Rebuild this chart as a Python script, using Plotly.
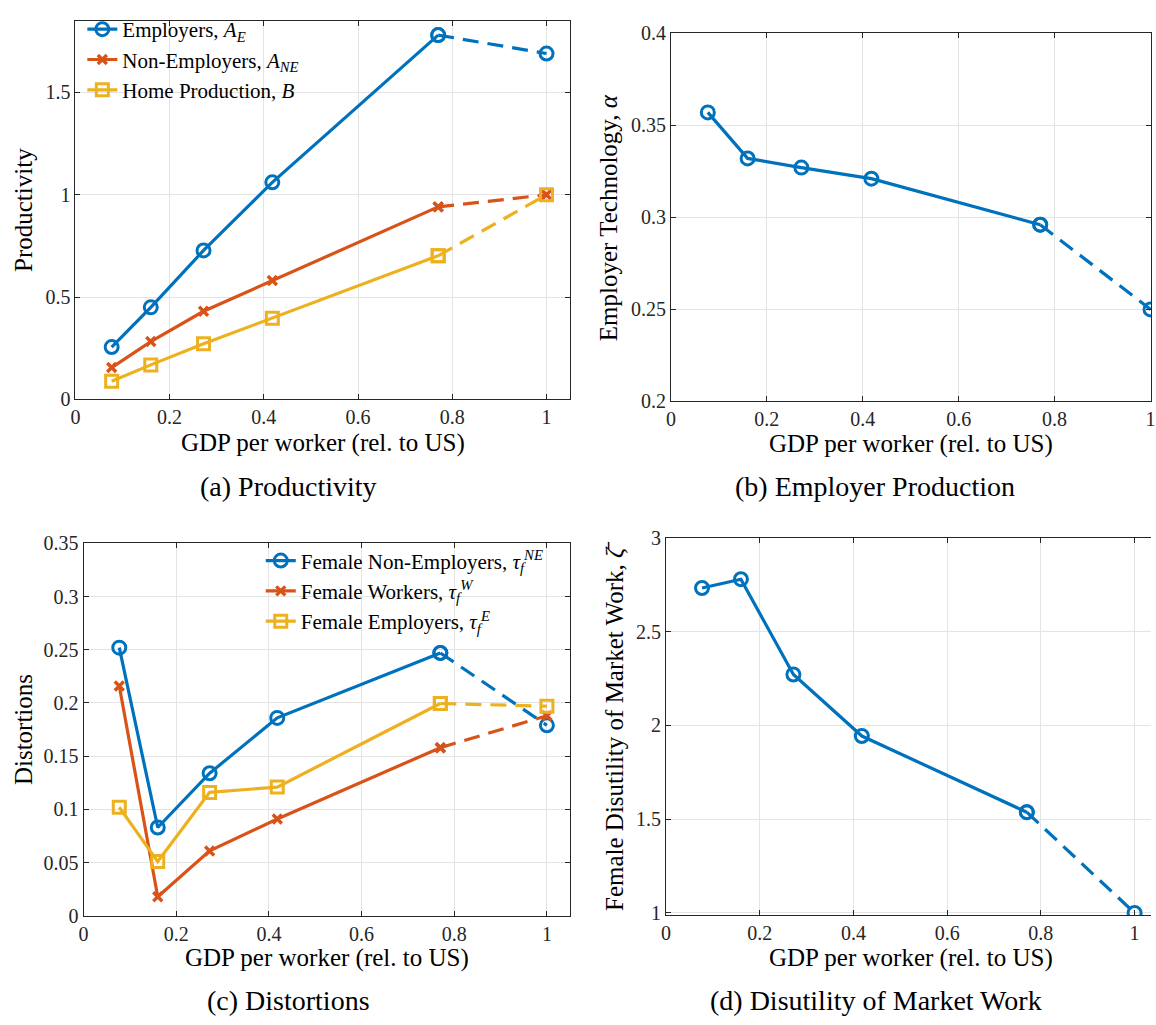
import plotly.graph_objects as go

# ---------------- data ----------------
gdp = [0.077, 0.160, 0.272, 0.418, 0.770, 1.0]

prod_employers = [0.256, 0.450, 0.728, 1.061, 1.780, 1.690]
prod_nonemployers = [0.156, 0.283, 0.431, 0.581, 0.941, 1.000]
prod_home = [0.089, 0.169, 0.272, 0.397, 0.702, 1.000]

alpha = [0.357, 0.332, 0.327, 0.321, 0.296, 0.250]

tau_ne = [0.252, 0.083, 0.134, 0.186, 0.247, 0.179]
tau_w = [0.216, 0.018, 0.061, 0.091, 0.158, 0.188]
tau_e = [0.102, 0.051, 0.116, 0.121, 0.1995, 0.197]

zeta = [2.732, 2.779, 2.271, 1.943, 1.537, 1.000]

x_ticks = [0, 0.2, 0.4, 0.6, 0.8, 1.0]
x_ticktext = ["0", "0.2", "0.4", "0.6", "0.8", "1"]
ya_ticks = [0, 0.5, 1.0, 1.5]
ya_text = ["0", "0.5", "1", "1.5"]
yb_ticks = [0.2, 0.25, 0.3, 0.35, 0.4]
yb_text = ["0.2", "0.25", "0.3", "0.35", "0.4"]
yc_ticks = [0, 0.05, 0.1, 0.15, 0.2, 0.25, 0.3, 0.35]
yc_text = ["0", "0.05", "0.1", "0.15", "0.2", "0.25", "0.3", "0.35"]
yd_ticks = [1, 1.5, 2, 2.5, 3]
yd_text = ["1", "1.5", "2", "2.5", "3"]

# ---------------- style ----------------
W, H = 1156, 1025
BLUE, RED, YEL = "#0072BD", "#D95319", "#EDB120"
FONT = "Liberation Serif"
LW = 3.2
DASH = "16px,9px"
AX = "#262626"
GRID = "#e4e4e4"

def fx(p):
    return p / W

def fy(p):
    return 1 - p / H

fig = go.Figure()

def add_series(xa, ya, y, color, symbol, size, mlw, name=None, legend=None):
    mk = dict(symbol=symbol, size=size, color=color, line=dict(color=color, width=mlw))
    fig.add_trace(go.Scatter(
        x=gdp[:5], y=y[:5], mode="lines+markers",
        line=dict(color=color, width=LW), marker=mk,
        name=name or "", legend=legend or "legend",
        showlegend=name is not None, xaxis=xa, yaxis=ya, hoverinfo="skip"))
    fig.add_trace(go.Scatter(
        x=gdp[4:], y=y[4:], mode="lines+markers",
        line=dict(color=color, width=LW, dash=DASH), marker=mk,
        showlegend=False, xaxis=xa, yaxis=ya, hoverinfo="skip"))

# (a)
add_series("x", "y", prod_employers, BLUE, "circle-open", 13, 3,
           "Employers, <i>A<sub>E</sub></i>", "legend")
add_series("x", "y", prod_nonemployers, RED, "x-thin", 9, 3.4,
           "Non-Employers, <i>A<sub>NE</sub></i>", "legend")
add_series("x", "y", prod_home, YEL, "square-open", 12, 3,
           "Home Production, <i>B</i>", "legend")
# (b)
add_series("x2", "y2", alpha, BLUE, "circle-open", 13, 3)
# (c)
add_series("x3", "y3", tau_ne, BLUE, "circle-open", 13, 3,
           "Female Non-Employers, <i>τ<sub>f</sub><sup>NE</sup></i>", "legend2")
add_series("x3", "y3", tau_w, RED, "x-thin", 9, 3.4,
           "Female Workers, <i>τ<sub>f</sub><sup>W</sup></i>", "legend2")
add_series("x3", "y3", tau_e, YEL, "square-open", 12, 3,
           "Female Employers, <i>τ<sub>f</sub><sup>E</sup></i>", "legend2")
# (d)
add_series("x4", "y4", zeta, BLUE, "circle-open", 13, 3)

def axstyle(**kw):
    d = dict(showline=True, linecolor=AX, linewidth=1, mirror="ticks",
             ticks="inside", ticklen=5, tickwidth=1, tickcolor=AX,
             showgrid=True, gridcolor=GRID, gridwidth=1, zeroline=False,
             tickfont=dict(family=FONT, size=20, color=AX), fixedrange=True)
    d.update(kw)
    return d

fig.update_layout(
    width=W, height=H, margin=dict(l=0, r=0, t=0, b=0),
    paper_bgcolor="white", plot_bgcolor="white",
    font=dict(family=FONT, color="black"),
    xaxis=axstyle(domain=[fx(71), fx(570)], range=[0, 1.05], anchor="y",
                  tickvals=x_ticks, ticktext=x_ticktext),
    yaxis=axstyle(domain=[fy(397), fy(10)], range=[0, 1.85], anchor="x",
                  tickvals=ya_ticks, ticktext=ya_text),
    xaxis2=axstyle(domain=[fx(671.7), 1.0], range=[0, 1.001], anchor="y2",
                   tickvals=x_ticks, ticktext=x_ticktext, ticklabeloverflow="allow"),
    yaxis2=axstyle(domain=[fy(399), fy(22.7)], range=[0.2, 0.4], anchor="x2",
                   tickvals=yb_ticks, ticktext=yb_text),
    xaxis3=axstyle(domain=[fx(79.3), fx(570)], range=[0, 1.05], anchor="y3",
                   tickvals=x_ticks, ticktext=x_ticktext),
    yaxis3=axstyle(domain=[fy(924.7), fy(544)], range=[0, 0.35], anchor="x3",
                   tickvals=yc_ticks, ticktext=yc_text),
    xaxis4=axstyle(domain=[fx(666.7), 1.0], range=[0, 1.035], anchor="y4",
                   tickvals=x_ticks, ticktext=x_ticktext),
    yaxis4=axstyle(domain=[fy(924), fy(538.3)], range=[0.988, 3], anchor="x4",
                   tickvals=yd_ticks, ticktext=yd_text, mirror=False),
    legend=dict(x=fx(78), y=fy(-2), xanchor="left", yanchor="top",
                bgcolor="rgba(0,0,0,0)", font=dict(family=FONT, size=21, color="black"),
                tracegroupgap=0, itemwidth=30),
    legend2=dict(x=fx(258), y=fy(541), xanchor="left", yanchor="top",
                 bgcolor="rgba(0,0,0,0)", font=dict(family=FONT, size=21, color="black"),
                 tracegroupgap=0, itemwidth=30),
    showlegend=True,
)

annotations = []
def ann(text, x, y, size, angle=0, family=FONT):
    annotations.append(dict(text=text, x=fx(x), y=fy(y), xref="paper", yref="paper",
                            xanchor="center", yanchor="middle", showarrow=False,
                            textangle=angle, font=dict(family=family, size=size, color="black")))

xt = "GDP per worker (rel. to US)"
ann(xt, 320.5, 441, 25)
ann(xt, 914, 443, 25)
ann(xt, 325, 968, 25)
ann(xt, 914, 968, 25)
ann("Productivity", 18, 203.5, 25, -90)
ann("Employer Technology, <i>α</i>", 609, 211, 25, -90)
ann("Distortions", 18, 734, 25, -90)
ann("Female Disutility of Market Work, <i>ζ̄</i>", 615, 731, 25, -90)
ann("(a) Productivity", 286, 486, 28)
ann("(b) Employer Production", 878, 486, 28)
ann("(c) Distortions", 286, 1011, 28)
ann("(d) Disutility of Market Work", 879, 1011, 28)
fig.update_layout(annotations=annotations)

fig.write_html("out.html", config={"displayModeBar": False})
